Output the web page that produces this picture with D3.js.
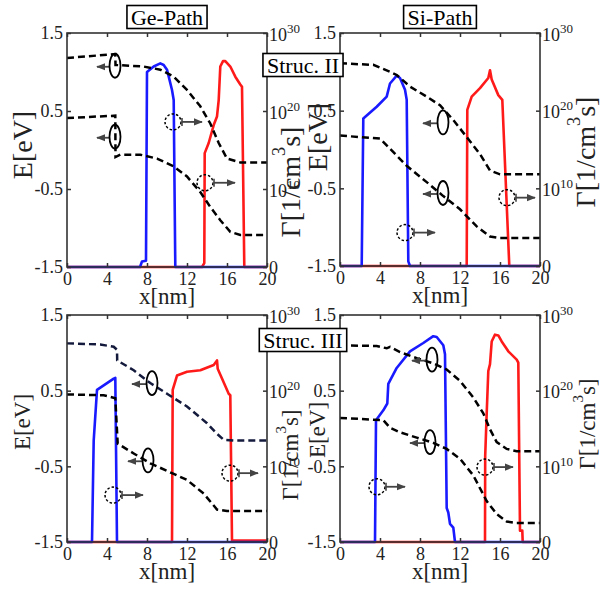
<!DOCTYPE html>
<html><head><meta charset="utf-8">
<script src="https://cdn.jsdelivr.net/npm/d3@7"></script>
<style>
body{margin:0;background:#fff;}
svg{display:block;}
svg text{font-family:"Liberation Serif","Tinos","Times New Roman",Times,"DejaVu Serif",serif;}
</style></head>
<body>
<svg id="chart" width="601" height="592"></svg>
<script>
// ---------- DATA ----------
// x in nm, band energies in eV, generation rates as log10(Γ [1/cm^3 s])
const xTicks = [0, 4, 8, 12, 16, 20];
const eTicks = [-1.5, -0.5, 0.5, 1.5];
const gTicks = [0, 10, 20, 30];
const titles = ["Ge-Path", "Si-Path"];
const strucLabels = ["Struc. II", "Struc. III"];

// Ge-Path, Struc. II
const geII_upper = [[0,1.18],[4.83,1.23],[4.85,1.09],[7.67,1.07],[9.33,1.03],[10.67,0.94],[12,0.77],[13.33,0.56],[14.33,0.34],[15.17,0.09],[16,-0.11],[17.33,-0.16],[20,-0.16]];
const geII_lower = [[0,0.41],[4.83,0.44],[4.85,-0.09],[5.33,-0.06],[7.33,-0.06],[9,-0.11],[10.67,-0.21],[12,-0.34],[13.33,-0.54],[14.33,-0.73],[15.33,-0.9],[16.33,-1.05],[17.33,-1.09],[20,-1.09]];
const geII_blue = [[0,0],[7.3,0],[7.5,0.7],[7.9,0.8],[8.0,25.0],[8.67,25.7],[9.33,26.1],[9.67,25.9],[10,25.3],[10.5,22.7],[10.67,21.4],[10.83,0],[20,0]];
const geII_red = [[0,0],[13.5,0],[13.73,0.5],[13.77,14.6],[14.17,15.9],[14.67,18.2],[15,19.3],[15.17,21.4],[15.33,25.7],[15.6,26.4],[15.83,26.4],[16.33,25.7],[16.83,24.4],[17.33,23.4],[17.5,23.1],[17.73,0],[20,0]];

// Si-Path, Struc. II
const siII_upper = [[0,1.11],[3.33,1.09],[5,1.0],[5.67,0.96],[7,0.81],[8.67,0.68],[10,0.57],[11.33,0.38],[12.67,0.16],[14,-0.06],[15,-0.27],[16,-0.32],[20,-0.32]];
const siII_lower = [[0,0.18],[4,0.14],[5,0.01],[6.67,-0.21],[8.67,-0.42],[10.33,-0.6],[12,-0.77],[13.67,-0.99],[15,-1.12],[16,-1.14],[20,-1.14]];
const siII_blue = [[0,0],[2.17,0],[2.33,19.0],[3.67,20.5],[4.67,21.8],[5,23.5],[5.67,24.5],[6,24.2],[6.5,22.7],[6.67,21.4],[6.83,0.6],[7,0],[20,0]];
const siII_red = [[0,0],[12.67,0],[12.73,20.1],[13.17,21.8],[14,22.9],[14.83,24.2],[15,25.2],[15.17,24.0],[15.83,22.0],[16.23,21.4],[16.93,0],[20,0]];

// Ge-Path, Struc. III
const geIII_upper = [[0,1.125],[3.33,1.11],[4.67,1.08],[5,1.04],[5.02,0.9],[6.67,0.77],[8.33,0.6],[10,0.46],[12,0.29],[14,0.07],[15,-0.07],[15.67,-0.15],[16.67,-0.16],[20,-0.16]];
const geIII_lower = [[0,0.45],[3.67,0.44],[4.83,0.4],[5.07,-0.2],[6.67,-0.33],[8.33,-0.46],[10.67,-0.6],[12,-0.68],[13.67,-0.86],[15,-1.07],[16,-1.09],[20,-1.09]];
const geIII_blue = [[0,0],[2.5,0],[2.67,13.4],[3,20.1],[4.67,21.6],[4.83,21.7],[5.0,0],[20,0]];
const geIII_red = [[0,0],[10.5,0],[10.57,20.1],[11,22.0],[12,22.5],[13.33,22.7],[14.67,23.4],[15,24.0],[15.07,22.9],[15.5,21.6],[16.17,19.6],[16.33,19.4],[16.5,0.2],[20,0.2]];

// Si-Path, Struc. III
const siIII_upper = [[0,1.1],[3.67,1.09],[4.67,1.06],[5,1.08],[6,1.01],[7.67,0.93],[9.33,0.86],[10.67,0.78],[12,0.63],[13.33,0.41],[14.33,0.2],[15,-0.01],[15.67,-0.18],[16.67,-0.27],[17.67,-0.3],[20,-0.3]];
const siIII_lower = [[0,0.14],[4.33,0.11],[5,0.01],[6,-0.05],[7.67,-0.12],[9.33,-0.19],[10.67,-0.27],[12,-0.4],[13.33,-0.62],[14.67,-0.96],[15.67,-1.13],[16.67,-1.23],[17.67,-1.25],[20,-1.25]];
const siIII_blue = [[0,0],[3.5,0],[3.6,16.1],[4.33,17.4],[4.73,18.3],[4.83,20.9],[5.67,23.0],[7,25.2],[8.33,26.3],[9.33,27.2],[9.67,27.1],[10.33,26.0],[10.5,24.8],[10.67,4.5],[10.83,3.9],[11,2.4],[11.33,1.9],[11.5,0],[20,0]];
const siIII_red = [[0,0],[14.5,0],[14.52,11.4],[14.67,17.0],[14.83,22.6],[15,23.5],[15.17,26.5],[15.5,27.4],[15.83,27.3],[16.17,26.5],[16.83,25.2],[17.67,24.1],[17.83,23.7],[18,1.5],[18.23,1.5],[18.27,0],[20,0]];

// annotation markers: [x, E, arrowTipX]
const geII_solid = [[4.8,1.08,3.0],[4.8,0.17,3.0]];
const geII_dashed = [[10.6,0.36,13.5],[13.8,-0.42,16.8]];
const siII_solid = [[10.3,0.35,8.3],[10.3,-0.56,8.3]];
const siII_dashed = [[6.5,-1.07,9.5],[16.7,-0.62,19.5]];
const geIII_solid = [[8.5,0.6,6.5],[8.1,-0.42,6.1]];
const geIII_dashed = [[4.6,-0.88,7.6],[16.3,-0.59,19.1]];
const siIII_solid = [[9.2,0.91,7.2],[9.0,-0.18,7.0]];
const siIII_dashed = [[3.7,-0.77,6.5],[14.5,-0.51,17.3]];

// ---------- LAYOUT ----------
const FONT = "'Liberation Serif','Tinos','Times New Roman',Times,'DejaVu Serif',serif";
const panels = [
  {box:[67,267,33,267], upper:geII_upper, lower:geII_lower, blue:geII_blue, red:geII_red, solid:geII_solid, dashed:geII_dashed, upperColor:"#000", big:true, eLab:[22,145], gLab:[290,182]},
  {box:[340,540,33,266], upper:siII_upper, lower:siII_lower, blue:siII_blue, red:siII_red, solid:siII_solid, dashed:siII_dashed, upperColor:"#000", big:true, eLab:[317,137], gLab:[585,152]},
  {box:[67,267,315,542], upper:geIII_upper, lower:geIII_lower, blue:geIII_blue, red:geIII_red, solid:geIII_solid, dashed:geIII_dashed, upperColor:"#141a3c", big:false, eLab:[22,422], gLab:[290,455]},
  {box:[340,540,315,542], upper:siIII_upper, lower:siIII_lower, blue:siIII_blue, red:siIII_red, solid:siIII_solid, dashed:siIII_dashed, upperColor:"#000", big:false, eLab:[317,430], gLab:[587,424]}
];

const svg = d3.select("#chart");
const axisColor = "#333";
svg.append("defs").append("marker")
  .attr("id","arr").attr("viewBox","0 0 10 10").attr("refX",9).attr("refY",5)
  .attr("markerWidth",5).attr("markerHeight",5).attr("orient","auto-start-reverse")
  .append("path").attr("d","M0,1 L10,5 L0,9 z").attr("fill","#444");

panels.forEach(p => {
  const [x0,x1,y0,y1] = p.box;
  const x = d3.scaleLinear().domain([0,20]).range([x0,x1]);
  const yE = d3.scaleLinear().domain([-1.5,1.5]).range([y1,y0]);
  const yG = d3.scaleLinear().domain([0,30]).range([y1,y0]);
  const g = svg.append("g");

  const lineG = d3.line().x(d=>x(d[0])).y(d=>yG(d[1]));
  const lineE = d3.line().x(d=>x(d[0])).y(d=>yE(d[1]));

  g.append("path").attr("d",lineG(p.red)).attr("fill","none").attr("stroke","#ff1a1a").attr("stroke-width",2.6).attr("stroke-linejoin","round");
  g.append("path").attr("d",lineG(p.blue)).attr("fill","none").attr("stroke","#1a1aff").attr("stroke-width",2.6).attr("stroke-linejoin","round");
  g.append("path").attr("d",lineE(p.upper)).attr("fill","none").attr("stroke",p.upperColor).attr("stroke-width",2.5).attr("stroke-dasharray","7,4");
  g.append("path").attr("d",lineE(p.lower)).attr("fill","none").attr("stroke","#000").attr("stroke-width",2.5).attr("stroke-dasharray","7,4");

  // annotations
  p.solid.forEach(d => {
    const cx = x(d[0]), cy = yE(d[1]);
    g.append("line").attr("x1",cx-6).attr("y1",cy+1).attr("x2",x(d[2])).attr("y2",cy+1)
      .attr("stroke","#444").attr("stroke-width",1.8).attr("marker-end","url(#arr)");
    g.append("ellipse").attr("cx",cx).attr("cy",cy).attr("rx",5.5).attr("ry",12)
      .attr("fill","none").attr("stroke","#000").attr("stroke-width",1.8);
  });
  p.dashed.forEach(d => {
    const cx = x(d[0]), cy = yE(d[1]);
    g.append("circle").attr("cx",cx).attr("cy",cy).attr("r",8)
      .attr("fill","none").attr("stroke","#000").attr("stroke-width",1.5).attr("stroke-dasharray","2.5,2");
    g.append("line").attr("x1",cx+9).attr("y1",cy-4).attr("x2",cx+9).attr("y2",cy+4)
      .attr("stroke","#444").attr("stroke-width",1.6);
    g.append("line").attr("x1",cx+9).attr("y1",cy).attr("x2",x(d[2])).attr("y2",cy)
      .attr("stroke","#444").attr("stroke-width",1.8).attr("marker-end","url(#arr)");
  });

  // axes
  const styleAxis = sel => {
    sel.attr("font-family",FONT);
    sel.select(".domain").remove();
    sel.selectAll(".tick line").attr("stroke",axisColor).attr("stroke-width",1.5);
    sel.selectAll(".tick text").attr("fill","#222").attr("font-size",18).attr("font-family",FONT);
  };
  g.append("g").attr("transform",`translate(0,${y1})`)
    .call(d3.axisBottom(x).tickValues(xTicks).tickSizeInner(-4).tickSizeOuter(0).tickPadding(5).tickFormat(d3.format("d")))
    .call(styleAxis);
  g.append("g").attr("transform",`translate(0,${y0})`)
    .call(d3.axisTop(x).tickValues(xTicks).tickSizeInner(-4).tickSizeOuter(0).tickFormat(""))
    .call(styleAxis);
  g.append("g").attr("transform",`translate(${x0},0)`)
    .call(d3.axisLeft(yE).tickValues(eTicks).tickSizeInner(-4).tickSizeOuter(0).tickPadding(4).tickFormat(d=>d.toFixed(1)))
    .call(styleAxis);
  const ra = g.append("g").attr("transform",`translate(${x1},0)`)
    .call(d3.axisRight(yG).tickValues(gTicks).tickSizeInner(-4).tickSizeOuter(0).tickPadding(3).tickFormat(""))
    .call(styleAxis);
  ra.selectAll(".tick").each(function(d){
    const t = d3.select(this).append("text").attr("x",2).attr("y",d===0?6:7)
      .attr("fill","#222").attr("font-size",18).attr("font-family",FONT).attr("text-anchor","start");
    if (d===0) { t.text("0"); }
    else {
      t.append("tspan").text("10");
      t.append("tspan").attr("dy",-8).attr("font-size",13).text(String(d));
    }
  });

  g.append("rect").attr("x",x0).attr("y",y0).attr("width",x1-x0).attr("height",y1-y0)
    .attr("fill","none").attr("stroke",axisColor).attr("stroke-width",1.6);

  // axis labels
  const labSize = p.big ? 28 : 23;
  g.append("text").attr("x",(x0+x1)/2).attr("y",y1+37).attr("text-anchor","middle")
    .attr("fill","#222").attr("font-family",FONT).attr("font-size",23).text("x[nm]");
  g.append("text").attr("transform",`translate(${p.eLab[0]},${p.eLab[1]}) rotate(-90)`)
    .attr("text-anchor","middle").attr("dominant-baseline","central")
    .attr("fill","#222").attr("font-family",FONT).attr("font-size",labSize).text("E[eV]");
  const gl = g.append("text").attr("transform",`translate(${p.gLab[0]},${p.gLab[1]}) rotate(-90)`)
    .attr("text-anchor","middle").attr("dominant-baseline","central")
    .attr("fill","#222").attr("font-family",FONT).attr("font-size",labSize);
  gl.append("tspan").text("Γ[1/cm");
  gl.append("tspan").attr("dy",-labSize*0.38).attr("font-size",labSize*0.65).text("3");
  gl.append("tspan").attr("dy",labSize*0.38).text("s]");
});

// boxed labels
function boxLabel(cx, cy, text, size){
  const g = svg.append("g");
  const t = g.append("text").attr("x",cx).attr("y",cy).attr("text-anchor","middle")
    .attr("dominant-baseline","central").attr("fill","#000").attr("font-family",FONT)
    .attr("font-size",size).text(text);
  const bb = t.node().getBBox();
  g.insert("rect","text").attr("x",bb.x-4).attr("y",cy-11.5).attr("width",bb.width+8).attr("height",23)
    .attr("fill","#fff").attr("stroke","#000").attr("stroke-width",1.6);
}
boxLabel(167, 17, titles[0], 22);
boxLabel(440, 17, titles[1], 22);
boxLabel(303, 65, strucLabels[0], 22);
boxLabel(303, 340, strucLabels[1], 22);
</script>
</body></html>
